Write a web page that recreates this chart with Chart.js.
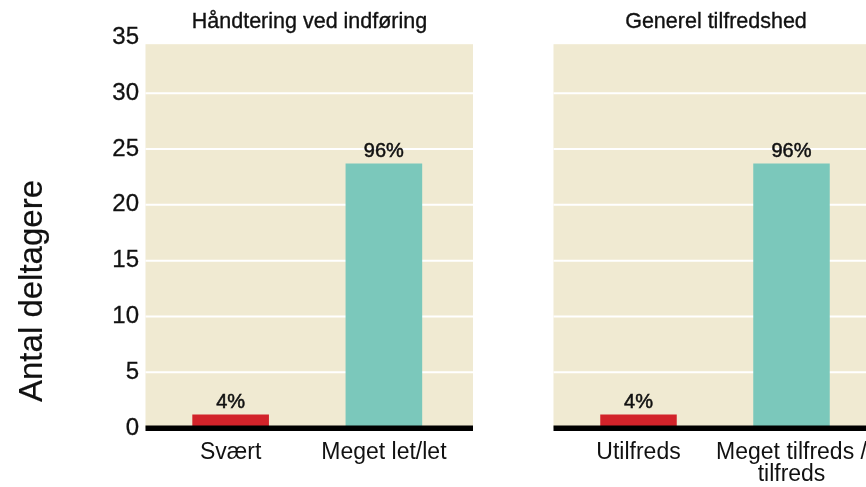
<!DOCTYPE html>
<html>
<head>
<meta charset="utf-8">
<script src="https://cdn.jsdelivr.net/npm/chart.js@4.4.1/dist/chart.umd.min.js"></script>
<style>
    html, body { margin: 0; padding: 0; width: 866px; height: 487px; overflow: hidden; background: #fff; }
    body { position: relative; font-family: "Liberation Sans", Arial, sans-serif; color: #111; }
    canvas { position: absolute; top: 0; }
    #left-chart { left: 0; }
    #right-chart { left: 480px; }
    .panel-title { position: absolute; top: 9px; font-size: 21.5px; white-space: nowrap; transform: translateX(-50%); -webkit-text-stroke: 0.35px #111; }
    #y-title { position: absolute; left: 31px; top: 291px; font-size: 33px; white-space: nowrap; transform: translate(-50%, -50%) rotate(-90deg); -webkit-text-stroke: 0.2px #111; }
</style>
</head>
<body>
<canvas id="left-chart" width="480" height="487"></canvas>
<canvas id="right-chart" width="420" height="487"></canvas>
<div class="panel-title" style="left:309.5px">Håndtering ved indføring</div>
<div class="panel-title" style="left:716px">Generel tilfredshed</div>
<div id="y-title">Antal deltagere</div>
<script>
const yMax = 35;
const yStep = 5;

const leftCategories = ['Svært', 'Meget let/let'];
const leftValues = [1.2, 23.7];
const leftPercents = ['4%', '96%'];

const rightCategories = ['Utilfreds', ['Meget tilfreds /', 'tilfreds']];
const rightValues = [1.2, 23.7];
const rightPercents = ['4%', '96%'];

const barColors = ['#d2232a', '#7bc8bb'];
const fontFamily = '"Liberation Sans", Arial, sans-serif';

// beige panel, white grid lines, black baseline and % labels
const panelPlugin = {
    id: 'panel',
    beforeDatasetsDraw(chart) {
        const { ctx, chartArea } = chart;
        const y = chart.scales.y;
        const left = chartArea.left - 8.5;
        const right = chartArea.right + 12.5;
        const top = y.getPixelForValue(34.4);
        const bottom = y.getPixelForValue(0);
        ctx.save();
        ctx.fillStyle = '#f0ead2';
        ctx.fillRect(left, top, right - left, bottom - top);
        ctx.strokeStyle = '#ffffff';
        ctx.lineWidth = 2;
        for (let v = yStep; v < yMax; v += yStep) {
            const py = y.getPixelForValue(v);
            ctx.beginPath();
            ctx.moveTo(left, py);
            ctx.lineTo(right, py);
            ctx.stroke();
        }
        ctx.restore();
    },
    afterDatasetsDraw(chart, args, opts) {
        const { ctx, chartArea } = chart;
        const y = chart.scales.y;
        const left = chartArea.left - 8.5;
        const right = chartArea.right + 12.5;
        const py = y.getPixelForValue(0);
        ctx.save();
        ctx.fillStyle = '#000';
        ctx.fillRect(left, py - 2.5, right - left, 5.5);
        ctx.font = '20px ' + fontFamily;
        ctx.fillStyle = '#111';
        ctx.strokeStyle = '#111';
        ctx.lineWidth = 0.5;
        ctx.textAlign = 'center';
        ctx.textBaseline = 'bottom';
        chart.getDatasetMeta(0).data.forEach((bar, i) => {
            ctx.fillText(opts.labels[i], bar.x, bar.y - 2);
            ctx.strokeText(opts.labels[i], bar.x, bar.y - 2);
        });
        ctx.restore();
    }
};

const makeConfig = (categories, values, percents, showY) => ({
    type: 'bar',
    data: {
        labels: categories,
        datasets: [{
            data: values,
            backgroundColor: barColors,
            borderWidth: 0,
            categoryPercentage: 1,
            barPercentage: 0.5
        }]
    },
    options: {
        responsive: false,
        animation: false,
        layout: {
            padding: { top: 37.5, bottom: 0, left: showY ? 0 : 82, right: showY ? 19.5 : 32 }
        },
        plugins: {
            legend: { display: false },
            tooltip: { enabled: false },
            panel: { labels: percents }
        },
        scales: {
            x: {
                grid: { display: false, drawTicks: false },
                border: { display: false },
                ticks: {
                    color: '#111',
                    padding: 14,
                    maxRotation: 0,
                    autoSkip: false,
                    font: { family: fontFamily, size: 23, lineHeight: 0.96 }
                },
                afterFit: (scale) => { scale.height = 59; }
            },
            y: {
                display: showY,
                min: 0,
                max: yMax,
                grid: { display: false, drawTicks: false },
                border: { display: false },
                ticks: {
                    stepSize: yStep,
                    color: '#111',
                    textStrokeColor: '#111',
                    textStrokeWidth: 0.3,
                    padding: 15,
                    font: { family: fontFamily, size: 24 }
                },
                afterFit: (scale) => { scale.width = showY ? 154 : 0; }
            }
        }
    },
    plugins: [panelPlugin]
});

const drawChart = (chartID, config) => {
    const ctx = document.getElementById(chartID).getContext('2d');
    new Chart(ctx, config);
};

document.addEventListener("DOMContentLoaded", () => {
    drawChart("left-chart", makeConfig(leftCategories, leftValues, leftPercents, true));
    drawChart("right-chart", makeConfig(rightCategories, rightValues, rightPercents, false));
});
</script>
</body>
</html>
